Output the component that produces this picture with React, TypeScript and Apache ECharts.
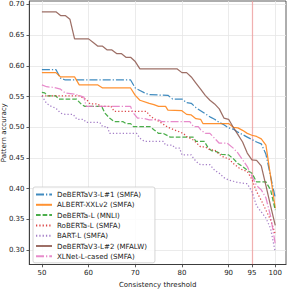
import React, { useEffect, useRef } from "react";
import * as echarts from "echarts";

const seriesNames = [
  "DeBERTaV3-L#1 (SMFA)",
  "ALBERT-XXLv2 (SMFA)",
  "DeBERTa-L (MNLI)",
  "RoBERTa-L (SMFA)",
  "BART-L (SMFA)",
  "DeBERTaV3-L#2 (MFALW)",
  "XLNet-L-cased (SMFA)",
];

const xTicks = [50, 60, 70, 80, 90, 95, 100];
const yTicks = [0.3, 0.35, 0.4, 0.45, 0.5, 0.55, 0.6, 0.65, 0.7];
const thresholdMark = 95;

const debertaV3L1 = [[50,0.594],[53,0.594],[54,0.580],[55,0.577],[69,0.577],[70,0.564],[71,0.560],[72,0.556],[73,0.553],[77,0.552],[78,0.546],[80,0.546],[81,0.540],[82,0.539],[83,0.532],[84,0.527],[85,0.522],[86,0.517],[87,0.513],[88,0.508],[89,0.504],[90,0.499],[91,0.497],[92,0.492],[93,0.488],[94,0.484],[95,0.480],[96,0.476],[97,0.473],[98,0.456],[99,0.420],[100,0.385]];
const albertXXL = [[50,0.589],[53,0.589],[54,0.582],[57,0.582],[58,0.569],[62,0.569],[63,0.564],[69,0.564],[70,0.552],[71,0.544],[73,0.539],[74,0.537],[75,0.534],[76.5,0.534],[77,0.528],[80,0.527],[81,0.521],[82,0.520],[83,0.514],[84,0.513],[84.5,0.506],[90,0.506],[91,0.500],[92,0.499],[93,0.495],[94,0.490],[95,0.487],[96,0.485],[97,0.481],[98,0.471],[99,0.420],[100,0.368]];
const debertaLMnli = [[50,0.557],[50.6,0.556],[51.2,0.551],[53,0.551],[53.6,0.546],[57.4,0.546],[58.5,0.537],[59.2,0.534],[62.8,0.534],[63.5,0.523],[64.5,0.515],[65.5,0.509],[67.4,0.509],[68,0.506],[69,0.506],[69.6,0.501],[73.2,0.501],[74,0.496],[75,0.490],[76,0.490],[77.5,0.484],[82.4,0.484],[83,0.477],[84.8,0.477],[85.5,0.468],[86.3,0.462],[87.5,0.460],[88.5,0.456],[90,0.455],[91,0.449],[92,0.441],[93,0.436],[94,0.430],[95,0.425],[96,0.411],[98,0.411],[99,0.398],[100,0.365]];
const robertaL = [[50,0.551],[58,0.551],[58.8,0.548],[59.6,0.545],[60.3,0.538],[62,0.538],[62.6,0.534],[64.8,0.534],[65.5,0.526],[72.4,0.526],[73,0.520],[74,0.514],[75,0.510],[76,0.505],[77,0.500],[78.3,0.496],[80.3,0.490],[81,0.485],[82.5,0.479],[84,0.468],[85,0.468],[86,0.463],[87,0.463],[88,0.456],[89,0.451],[90,0.449],[91,0.441],[92.5,0.432],[94,0.428],[95,0.415],[96,0.395],[97,0.381],[98,0.365],[99,0.349],[100,0.326]];
const bartL = [[50,0.551],[50.5,0.545],[51,0.539],[52,0.534],[53,0.531],[54,0.523],[55,0.521],[56.7,0.521],[57.5,0.513],[58.9,0.513],[59.5,0.508],[62.4,0.508],[63,0.501],[64,0.501],[64.5,0.490],[70.3,0.490],[71,0.482],[72,0.477],[76,0.477],[76.5,0.471],[78,0.471],[78.5,0.466],[79.5,0.466],[80,0.455],[82,0.455],[82.5,0.449],[83.5,0.441],[84,0.439],[86,0.439],[87,0.430],[88,0.425],[89,0.418],[90,0.414],[91,0.412],[92,0.410],[94,0.408],[95,0.395],[96,0.372],[97,0.362],[98,0.352],[99,0.335],[100,0.297]];
const debertaV3L2 = [[50,0.688],[53,0.688],[54,0.682],[55,0.682],[56,0.676],[57,0.644],[60,0.644],[61,0.638],[62,0.632],[63,0.632],[64,0.626],[65,0.626],[66,0.620],[67,0.620],[68,0.614],[69,0.614],[70,0.607],[71,0.595],[79,0.595],[80,0.589],[81,0.589],[82,0.582],[83,0.572],[84,0.562],[85,0.552],[86,0.544],[87,0.538],[88,0.530],[89,0.515],[90,0.513],[91,0.500],[92,0.488],[93,0.476],[94,0.458],[95,0.447],[96,0.446],[97,0.437],[98,0.405],[99,0.372],[100,0.340]];
const xlnetL = [[50,0.569],[51,0.566],[52.5,0.565],[54,0.562],[55,0.556],[57,0.554],[59,0.549],[59.5,0.534],[69,0.534],[69.5,0.524],[70.5,0.515],[72,0.514],[73,0.512],[75,0.512],[75.7,0.509],[81.7,0.509],[82.5,0.501],[83.5,0.501],[84,0.496],[85,0.490],[86,0.490],[87,0.482],[88,0.474],[89.7,0.474],[91,0.466],[92,0.458],[93,0.447],[94,0.436],[95,0.420],[96,0.405],[97,0.398],[98,0.385],[99,0.355],[100,0.310]];

const allData = [debertaV3L1, albertXXL, debertaLMnli, robertaL, bartL, debertaV3L2, xlnetL];
const colors = ["#1f77b4", "#ff7f0e", "#2ca02c", "#d62728", "#9467bd", "#8c564b", "#e377c2"];
const lw = 1.25;
const dashes: any[] = [
  [6.4 * lw, 1.6 * lw, 1 * lw, 1.6 * lw],
  "solid",
  [3.7 * lw, 1.6 * lw],
  [1 * lw, 1.65 * lw],
  [1 * lw, 1.65 * lw],
  "solid",
  [6.4 * lw, 1.6 * lw, 1 * lw, 1.6 * lw],
];

export default function App() {
  const ref = useRef<HTMLDivElement>(null);
  useEffect(() => {
    if (!ref.current) return;
    const chart = echarts.init(ref.current, null, { renderer: "svg" });
    const font = "DejaVu Sans";
    const series: any[] = allData.map((d, i) => ({
      name: seriesNames[i],
      type: "line",
      data: d,
      showSymbol: false,
      symbol: "none",
      z: 3 + i,
      lineStyle: { color: colors[i], width: lw, type: dashes[i], opacity: 0.85 },
      itemStyle: { color: colors[i], opacity: 0.85 },
      emphasis: { disabled: true },
    }));
    series[0].markLine = {
      silent: true,
      symbol: "none",
      label: { show: false },
      lineStyle: { color: "#ff0000", opacity: 0.25, width: 1.3, type: "solid" },
      data: [{ xAxis: thresholdMark }],
      z: 1,
    };
    chart.setOption({
      animation: false,
      grid: {
        left: 29.3,
        right: 1,
        top: 1,
        bottom: 25.5,
        containLabel: false,
        outerBoundsMode: "none",
        show: true,
        borderColor: "#333",
        borderWidth: 0.8,
        backgroundColor: "transparent",
      },
      legend: {
        orient: "vertical",
        left: 33,
        top: 187,
        z: 20,
        padding: [4, 8, 3, 2],
        itemWidth: 16,
        itemHeight: 8,
        itemGap: 3.3,
        backgroundColor: "rgba(255,255,255,0.85)",
        borderColor: "#cccccc",
        borderWidth: 0.8,
        borderRadius: 2,
        itemStyle: { color: "rgba(0,0,0,0)", borderColor: "rgba(0,0,0,0)", borderWidth: 0 },
        textStyle: { fontFamily: font, fontSize: 7.1, color: "#222" },
        data: seriesNames,
      },
      xAxis: {
        type: "value",
        min: 47.3,
        max: 102.3,
        name: "Consistency threshold",
        nameLocation: "middle",
        nameGap: 14.5,
        nameTextStyle: { fontFamily: font, fontSize: 7, color: "#222" },
        axisLine: { show: true, lineStyle: { color: "#333", width: 0.8 } },
        axisTick: { show: true, length: 2.8, customValues: xTicks, lineStyle: { color: "#333", width: 0.8 } },
        axisLabel: { customValues: xTicks, fontFamily: font, fontSize: 7, color: "#222", margin: 4.8 },
        splitLine: { show: true, lineStyle: { color: "#e6e6e6", width: 0.8 } },
      },
      yAxis: {
        type: "value",
        min: 0.2764,
        max: 0.7057,
        name: "Pattern accuracy",
        nameLocation: "middle",
        nameGap: 21.5,
        nameRotate: 90,
        nameMoveOverlap: false,
        nameTextStyle: { fontFamily: font, fontSize: 7, color: "#222" },
        axisLine: { show: true, lineStyle: { color: "#333", width: 0.8 } },
        axisTick: { show: true, length: 2.8, customValues: yTicks, lineStyle: { color: "#333", width: 0.8 } },
        axisLabel: {
          customValues: yTicks,
          fontFamily: font,
          fontSize: 7,
          color: "#222",
          margin: 4.8,
          formatter: (v: number) => v.toFixed(2),
        },
        splitLine: { show: true, lineStyle: { color: "#e6e6e6", width: 0.8 } },
      },
      series,
    });
    return () => chart.dispose();
  }, []);
  return (
    <div
      ref={ref}
      style={{ position: "fixed", left: 0, top: 0, width: 287, height: 290, background: "#fff" }}
    />
  );
}
